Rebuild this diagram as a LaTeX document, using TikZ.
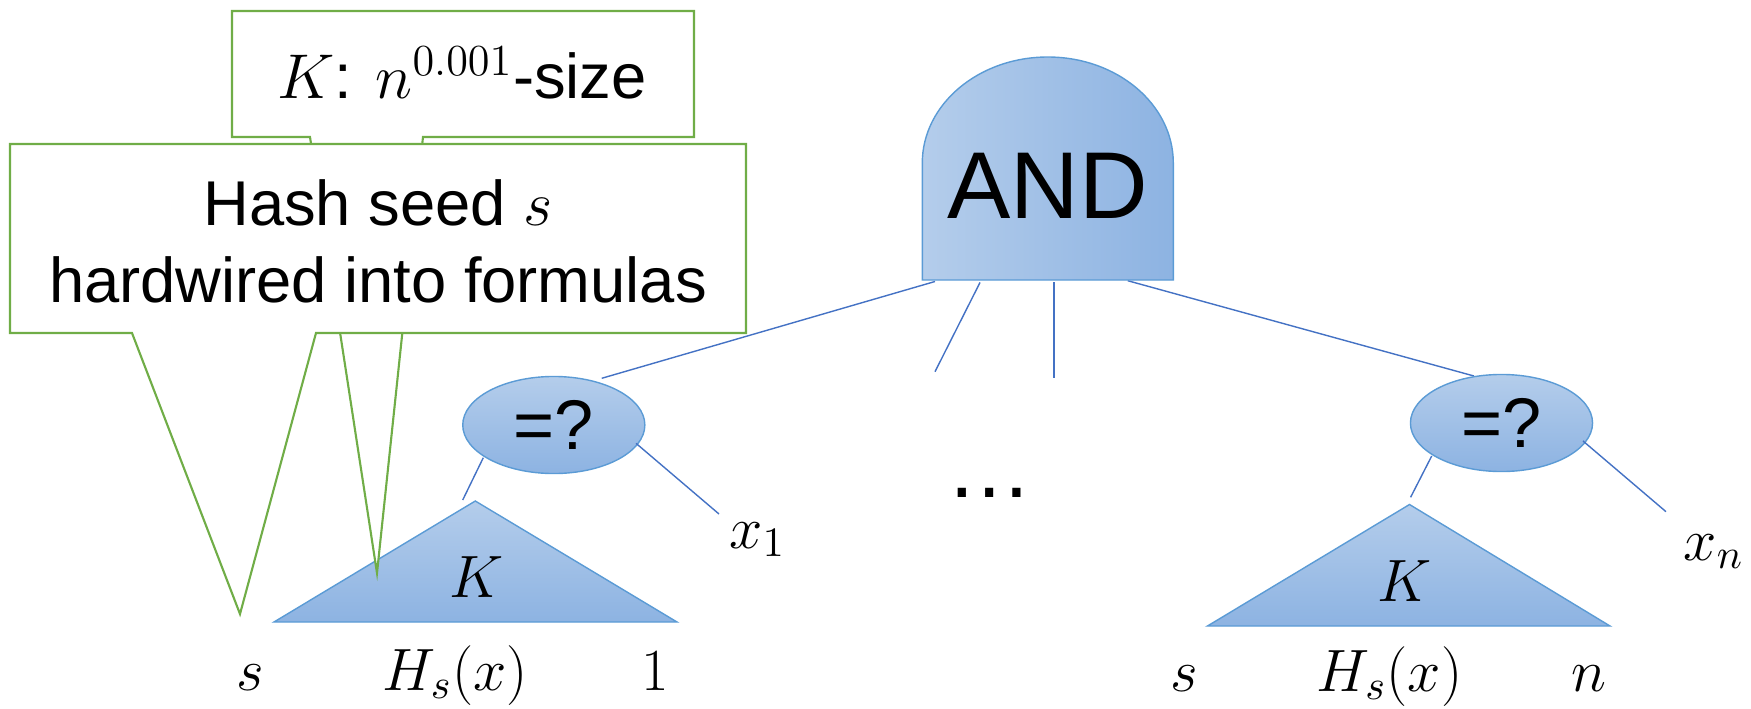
\RequirePackage{fix-cm}
\documentclass[tikz,border=0pt]{standalone}
\usepackage{fontspec}
\setmainfont{Liberation Sans}
\usetikzlibrary{shapes.geometric}
\definecolor{cgreen}{HTML}{70AD47}
\definecolor{cedge}{HTML}{5B9BD5}
\definecolor{cline}{HTML}{4472C4}
\definecolor{clight}{HTML}{B4CDEB}
\definecolor{cdark}{HTML}{8DB3E2}
\begin{document}
\begin{tikzpicture}[x=0.01cm,y=-0.01cm,
  callout/.style={draw=cgreen, fill=white, line width=0.6pt},
  blueshape/.style={draw=cedge, line width=0.4pt, top color=clight, bottom color=cdark},
  conn/.style={draw=cline, line width=0.4pt},
  txt/.style={inner sep=0pt, anchor=base, font=\fontsize{18}{21.6}\selectfont},
  mlbl/.style={inner sep=0pt, anchor=base, font=\fontsize{17}{20}\selectfont},
  eqnode/.style={ellipse, minimum width=1.82cm, minimum height=0.97cm, inner sep=0pt,
    blueshape, font=\fontsize{20}{24}\selectfont},
]
\useasboundingbox (0,0) rectangle (1751,709);

% connector end points
\coordinate (a1) at (935,281.5);
\coordinate (a2) at (980,282.5);
\coordinate (a3) at (1054,282);
\coordinate (a4) at (1127.7,280.7);
\coordinate (e1) at (601.7,378.3);
\coordinate (e2) at (935,371.7);
\coordinate (e3) at (1054,378);
\coordinate (e4) at (1473.9,376);

% AND connectors
\draw[conn] (a1) -- (e1);
\draw[conn] (a2) -- (e2);
\draw[conn] (a3) -- (e3);
\draw[conn] (a4) -- (e4);

% AND gate
\draw[draw=cedge, line width=0.4pt, left color=clight, right color=cdark]
  (922.3,280) -- (922.3,163) arc[start angle=180, end angle=360, x radius=125.5, y radius=106]
  -- (1173.3,280) -- cycle;
\node (andtxt) [inner sep=0pt, anchor=base, font=\fontsize{27}{30}\selectfont] at (1047.5,218) {AND};

% left equality test
\node (eqL) [eqnode] at (553.8,425) {=?};
\coordinate (tL1) at (483.3,457.7);
\coordinate (tL2) at (462.7,500);
\coordinate (xL1) at (636,443.3);
\coordinate (xL2) at (719,514);
\draw[conn] (tL1) -- (tL2);
\draw[conn] (xL1) -- (xL2);
\draw[blueshape] (475.3,501) -- (677,622) -- (274,622) -- cycle;
\node (kL) [mlbl] at (477,597) {$K$};

% right equality test
\node (eqR) [eqnode] at (1501.5,423) {=?};
\coordinate (tR1) at (1431.7,456);
\coordinate (tR2) at (1410.6,497.3);
\coordinate (xR1) at (1583,441);
\coordinate (xR2) at (1666,511.7);
\draw[conn] (tR1) -- (tR2);
\draw[conn] (xR1) -- (xR2);
\draw[blueshape] (1409.5,504.5) -- (1610,626) -- (1207.5,626) -- cycle;
\node (kR) [mlbl] at (1405,601) {$K$};

% dots
\node (dots) [inner sep=0pt, anchor=base, font=\fontsize{24.5}{28}\selectfont] at (990,497.5) {…};

% leaf labels
\node (x1) [mlbl, anchor=base west] at (729,548) {$x_1$};
\node (xn) [mlbl, anchor=base west] at (1683,560) {$x_n$};
\node (sL) [mlbl] at (250,690) {$s$};
\node (hL) [mlbl] at (455,690) {$H_s(x)$};
\node (oneL) [mlbl] at (655,690) {$1$};
\node (sR) [mlbl] at (1184.5,691) {$s$};
\node (hR) [mlbl] at (1389.5,691) {$H_s(x)$};
\node (nR) [mlbl] at (1589,691) {$n$};

% callouts
\draw[callout] (232,11) -- (694,11) -- (694,137) -- (423,137) -- (377,573) -- (310,137) -- (232,137) -- cycle;
\node (ksize) [txt] at (462,98) {$K$: $n^{0.001}$-size};
\draw[callout] (10,144) -- (746,144) -- (746,333) -- (316,333) -- (240,614) -- (132,333) -- (10,333) -- cycle;
\node (hash1) [txt] at (378,225) {Hash seed $s$};
\node (hash2) [txt] at (378,302) {hardwired into formulas};
\end{tikzpicture}
\end{document}
